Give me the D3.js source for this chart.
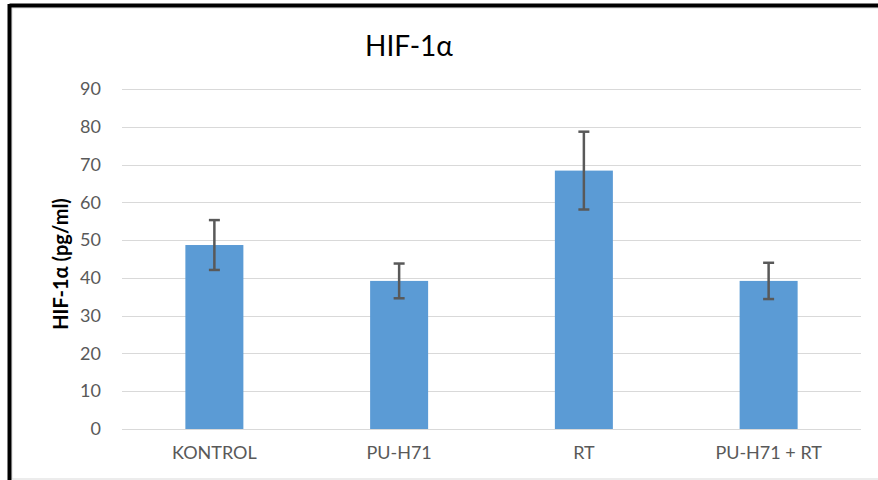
<!DOCTYPE html>
<html>
<head>
<meta charset="utf-8">
<script src="https://cdn.jsdelivr.net/npm/d3@7"></script>
<style>
  body{margin:0;background:#fff;}
  text{font-family:Lato,"Liberation Sans",sans-serif;}
</style>
</head>
<body>
<svg id="display" width="878" height="480"></svg>
<script>
// data
const categories=["KONTROL","PU-H71","RT","PU-H71 + RT"];
const means=[48.7,39.2,68.4,39.2];
const errors=[6.6,4.6,10.3,4.8];
const y_ticks=[0,10,20,30,40,50,60,70,80,90];

const display=d3.select("#display");

// frame
display.append("rect")
    .attr("x",12).attr("y",8).attr("width",880).attr("height",471)
    .attr("fill","none").attr("stroke","#d9d9d9").attr("stroke-width",1);
display.append("line")
    .attr("x1",9.5).attr("y1",5.5).attr("x2",878).attr("y2",5.5)
    .attr("stroke","#000").attr("stroke-width",4);
display.append("line")
    .attr("x1",9.5).attr("y1",4).attr("x2",9.5).attr("y2",480)
    .attr("stroke","#000").attr("stroke-width",4);

// scales
const x=d3.scaleBand().domain(categories).range([122,861]).padding(0);
const y=d3.scaleLinear().domain([0,90]).range([429,89]);
const bar_w=x.bandwidth()*0.314;

// gridlines
display.append("g").selectAll("line").data(y_ticks).join("line")
    .attr("x1",122).attr("x2",861)
    .attr("y1",d=>Math.round(y(d))+0.5).attr("y2",d=>Math.round(y(d))+0.5)
    .attr("stroke","#d9d9d9").attr("stroke-width",1);

// y tick labels
const y_axis=d3.axisLeft(y).tickValues(y_ticks).tickSize(0).tickPadding(21);
const gy=display.append("g").attr("transform","translate(122,0)").call(y_axis);
gy.select(".domain").remove();
gy.selectAll("text")
    .style("font-size","18px")
    .style("font-family","Lato,'Liberation Sans',sans-serif")
    .attr("fill","#595959");

// bars
display.append("g").selectAll("rect").data(categories).join("rect")
    .attr("x",(d)=>x(d)+x.bandwidth()/2-bar_w/2)
    .attr("y",(d,i)=>y(means[i]))
    .attr("width",bar_w)
    .attr("height",(d,i)=>y(0)-y(means[i]))
    .attr("fill","#5b9bd5");

// error bars
const eg=display.append("g");
categories.forEach((c,i)=>{
    const cx=x(c)+x.bandwidth()/2;
    const top=y(means[i]+errors[i]);
    const bot=y(means[i]-errors[i]);
    eg.append("line")
        .attr("x1",cx).attr("x2",cx).attr("y1",top).attr("y2",bot)
        .attr("stroke","#595959").attr("stroke-width",2.5);
    for (const yy of [top,bot]){
        eg.append("line")
            .attr("x1",cx-5.5).attr("x2",cx+5.5).attr("y1",yy).attr("y2",yy)
            .attr("stroke","#595959").attr("stroke-width",2.5);
    }
});

// x labels
const x_axis=d3.axisBottom(x).tickSize(0).tickPadding(17);
const gx=display.append("g").attr("transform","translate(0,429)").call(x_axis);
gx.select(".domain").remove();
gx.selectAll("text")
    .style("font-size","18px")
    .style("font-family","Lato,'Liberation Sans',sans-serif")
    .attr("fill","#595959");

// title
display.append("text")
    .attr("x",409).attr("y",56)
    .style("font-size","28px")
    .style("fill","#000")
    .style("text-anchor","middle")
    .text("HIF-1α");

// y axis title
display.append("text")
    .attr("transform","translate(68,264) rotate(-90)")
    .style("font-size","20px")
    .style("font-weight","bold")
    .style("fill","#000")
    .style("text-anchor","middle")
    .text("HIF-1α (pg/ml)");
</script>
</body>
</html>
